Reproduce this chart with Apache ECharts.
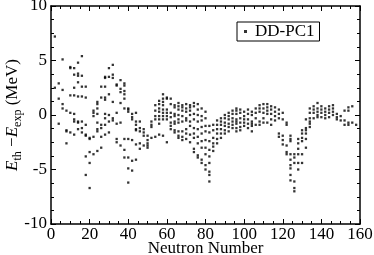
<!DOCTYPE html>
<html>
<head>
<meta charset="utf-8">
<script src="https://cdn.jsdelivr.net/npm/echarts@6/dist/echarts.min.js"></script>
<style>
html,body{margin:0;padding:0;background:#fff;}
#chart{width:374px;height:255px;}
</style>
</head>
<body>
<div id="chart"></div>
<script>
// Neutron numbers (x) and residuals E_th - E_exp (MeV)
var neutronNumbers = [2,4,6,8,10,12,14,16,18,20,22,24,26,28,30,32,34,36,38,40,
  42,44,46,48,50,52,54,56,58,60,62,64,66,68,70,72,74,76,78,80,82,84,86,88,90,92,94,
  96,98,100,102,104,106,108,110,112,114,116,118,120,122,124,126,128,130,132,134,
  136,138,140,142,144,146,148,150,152,154,156,158];
var residualsByN = [
  [7.2, 2.5],
  [2.9, 1.5, -0.8],
  [5.1, 2.3, 1.0, 0.6],
  [0.4, -1.4, -1.5, -2.6],
  [4.3, 4.4, 1.8, 0.2, -1.6],
  [4.3, 3.7, 2.5, 1.8, 0.1, -0.4, -0.6, -1.8],
  [4.8, 3.8, 3.6, 3.0, 1.7, -0.6, -0.7, -1.3],
  [5.4, 3.6, 2.6, 1.7, -0.6, -1.2, -1.6],
  [2.6, 1.6, -0.9, -1.8, -1.9, -3.8, -5.5],
  [-2.1, -2.2, -3.4, -4.4, -6.7],
  [0.4, 0.2, -0.1, -2.0, -3.6],
  [1.2, 1.0, 0.6, 0.1, -0.7, -1.3, -1.5, -3.3],
  [2.6, 1.6, -0.9, -1.2, -2.0, -3.0],
  [3.4, 3.5, 2.6, 1.6, 1.4, 0.1, -0.3, -0.9, -1.8],
  [4.3, 3.5, 1.9, 0.0, -0.6, -1.6],
  [4.6, 3.7, 3.4, 1.2, -0.3, -0.5],
  [2.8, 2.7, 0.2, -0.8, -2.2, -2.5],
  [3.2, 2.4, 2.1, 1.1, -0.7, -2.8],
  [2.9, 2.7, 2.2, 1.9, 1.5, 0.6, -2.2, -3.2, -3.9],
  [0.6, 0.5, 0.3, -2.2, -3.9, -4.9, -6.2],
  [0.1, -0.2, -0.4, -2.3, -4.2, -5.1],
  [0.2, -0.6, -0.9, -1.3, -1.4, -2.7, -4.1],
  [-0.6, -1.2, -1.5, -2.6, -3.1],
  [-1.3, -1.6, -1.9, -2.8],
  [-1.9, -2.3, -2.6, -2.8, -3.0],
  [-0.6, -0.9, -1.1, -2.1],
  [0.9, 0.4, -0.1, -0.4, -2.0],
  [1.3, 1.0, 0.6, 0.3, -0.1, -0.4, -0.8, -1.8],
  [1.9, 1.5, 1.2, 0.9, 0.5, 0.2, -0.1, -0.4, -1.9],
  [1.6, 1.5, 0.5, 0.2, -0.1, -0.4, -2.5],
  [1.5, 1.0, 0.2, -0.2, -0.7, -1.0, -1.3],
  [0.9, 0.7, 0.1, -0.1, -0.6, -0.8, -1.4, -1.6],
  [1.1, 0.8, 0.5, 0.0, -0.4, -0.7, -1.5, -1.9, -2.1],
  [0.9, 0.7, 0.4, -0.1, -0.6, -1.5, -2.0, -2.3],
  [1.0, 0.6, 0.3, -0.3, -0.5, -1.3, -1.7, -2.2],
  [0.9, 0.7, 0.4, 0.0, -0.6, -1.0, -1.8, -2.5],
  [1.1, 0.8, 0.1, -0.4, -1.2, -1.7, -2.1, -3.1, -3.4],
  [1.0, 0.5, 0.0, -0.6, -1.3, -2.0, -2.6, -3.7, -3.9],
  [0.6, -0.1, -0.5, -1.1, -1.7, -2.4, -3.0, -4.1, -4.4],
  [0.3, -0.3, -1.0, -1.5, -2.3, -3.0, -3.6, -4.6, -5.0],
  [-1.0, -1.6, -2.4, -3.2, -3.8, -4.4, -5.2, -5.5, -6.1],
  [-0.9, -1.4, -2.1, -2.6, -2.9, -3.3],
  [-0.5, -0.9, -1.3, -1.7, -2.2, -2.6],
  [-0.3, -0.6, -0.9, -1.3, -1.7, -2.1],
  [0.0, -0.3, -0.7, -1.0, -1.4, -1.7],
  [0.2, -0.1, -0.4, -0.8, -1.1, -1.5],
  [0.4, 0.1, -0.3, -0.6, -0.9, -1.2],
  [0.6, 0.4, 0.1, -0.4, -0.6, -0.8, -1.2, -1.5],
  [0.5, 0.2, -0.3, -0.7, -1.1, -1.4],
  [0.3, -0.1, -0.4, -0.7, -1.0],
  [0.5, 0.1, -0.4, -0.8, -1.2],
  [0.3, 0.0, -0.6, -0.8, -1.0, -1.5],
  [0.6, 0.2, -0.3, -0.9],
  [0.9, 0.6, 0.3, -0.6, -0.9],
  [1.0, 0.6, 0.2, -0.3, -0.7],
  [1.0, 0.7, 0.4, 0.1, -0.7],
  [0.8, 0.5, 0.1, -0.4, -0.9],
  [0.7, 0.3, -0.1, -0.5],
  [0.5, 0.1, -0.3, -1.7, -2.0],
  [0.2, -0.4, -1.9, -2.3, -2.7],
  [-0.7, -0.9, -2.8, -3.4, -3.6],
  [-1.9, -2.2, -2.4, -3.6, -4.1, -4.6, -4.9, -5.5, -6.0],
  [-3.6, -3.9, -4.4, -6.1, -6.7, -7.0],
  [-2.2, -2.6, -3.1, -3.6, -4.4, -5.0],
  [-1.4, -1.7, -2.1, -2.4, -3.6, -4.4],
  [-0.4, -1.2, -1.4, -1.7, -2.2, -3.0],
  [0.6, 0.2, -0.3, -0.6, -0.8, -1.1],
  [0.8, 0.5, 0.2, -0.3],
  [1.1, 0.6, 0.3, 0.0, -0.2],
  [0.8, 0.5, 0.2, -0.2],
  [0.6, 0.3, 0.0, -0.3],
  [0.8, 0.5, 0.2, -0.2],
  [0.9, 0.6, 0.3, 0.0],
  [0.1, -0.2, -0.4],
  [-0.1, -0.5],
  [0.4, -0.5, -0.9],
  [0.7, 0.4, -0.7, -0.9],
  [0.8, -0.7],
  [-0.9]
];
var xTicks = [0, 160, 20];
var yTicks = [-10, 10, 5];
var seriesName = 'DD-PC1';

var points = [];
neutronNumbers.forEach(function (n, i) {
  residualsByN[i].forEach(function (v) { points.push([n, v]); });
});

var FONT = 'Liberation Serif';
function axisCommon(showLabel) {
  return {
    axisLine: { show: true, onZero: false, lineStyle: { color: '#000', width: 1.5 } },
    axisTick: { show: true, inside: true, length: 5, lineStyle: { color: '#000', width: 1 } },
    minorTick: { show: true, splitNumber: 4, length: 3, lineStyle: { color: '#000', width: 1 } },
    splitLine: { show: false },
    minorSplitLine: { show: false },
    axisLabel: { show: showLabel, color: '#000', fontFamily: FONT, fontSize: 17 }
  };
}

var xBottom = Object.assign({ type: 'value', position: 'bottom', min: xTicks[0], max: xTicks[1], interval: xTicks[2],
  name: 'Neutron Number', nameLocation: 'middle', nameGap: 16, nameMoveOverlap: false,
  nameTextStyle: { color: '#000', fontFamily: FONT, fontSize: 17 } }, axisCommon(true));
xBottom.axisLabel.margin = 2;
var xTop = Object.assign({ type: 'value', position: 'top', min: xTicks[0], max: xTicks[1], interval: xTicks[2] }, axisCommon(false));
var yLeft = Object.assign({ type: 'value', position: 'left', min: yTicks[0], max: yTicks[1], interval: yTicks[2],
  name: '{e|E}{s|th}{m| \u2212}{e|E}{s|exp}{m| (MeV)}', nameLocation: 'middle', nameRotate: 90, nameGap: 27,
  nameMoveOverlap: false,
  nameTextStyle: { color: '#000', fontFamily: FONT, fontSize: 17,
    rich: {
      e: { fontFamily: FONT, fontStyle: 'italic', fontSize: 17, color: '#000', lineHeight: 20, verticalAlign: 'top' },
      s: { fontFamily: FONT, fontSize: 12, color: '#000', lineHeight: 20, verticalAlign: 'bottom' },
      m: { fontFamily: FONT, fontSize: 17, color: '#000', lineHeight: 20, verticalAlign: 'top' }
    } } }, axisCommon(true));
yLeft.axisLabel.margin = 4;
var yRight = Object.assign({ type: 'value', position: 'right', min: yTicks[0], max: yTicks[1], interval: yTicks[2] }, axisCommon(false));

var chart = echarts.init(document.getElementById('chart'), null, { renderer: 'canvas' });
chart.setOption({
  backgroundColor: '#fff',
  animation: false,
  grid: { left: 51, right: 14, top: 6, bottom: 31, containLabel: false, outerBoundsMode: 'none' },
  legend: {
    data: [seriesName], left: 237, top: 22,
    padding: [1, 5, 1, 7],
    borderColor: '#000', borderWidth: 1, borderRadius: 0,
    itemWidth: 3, itemHeight: 3, itemGap: 0,
    textStyle: { color: '#000', fontFamily: FONT, fontSize: 17, padding: [0, 0, 0, 3] }
  },
  xAxis: [xBottom, xTop],
  yAxis: [yLeft, yRight],
  series: [{
    name: seriesName, type: 'scatter', xAxisIndex: 0, yAxisIndex: 0,
    symbol: 'rect', symbolSize: 2.3,
    itemStyle: { color: '#000' },
    data: points
  }]
});
</script>
</body>
</html>
